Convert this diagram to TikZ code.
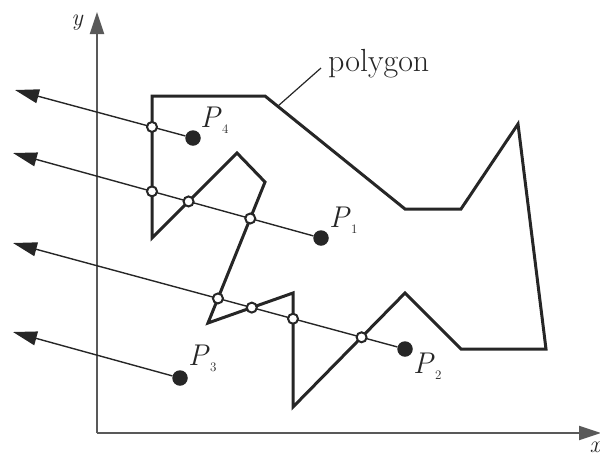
\documentclass[tikz,border=0pt]{standalone}
\usepackage{fontspec}
\usetikzlibrary{arrows.meta}
\begin{document}
\begin{tikzpicture}[x=1pt,y=-1pt,
 poly/.style={line width=3pt, line join=miter, draw=black!85},
 ray/.style={line width=1.4pt, draw=black!85, -{Triangle[length=24pt,width=14pt]}},
 axis/.style={line width=2pt, draw=black!65, -{Triangle[length=22pt,width=14pt]}},
 hole/.style={circle, draw=black!85, fill=white, line width=2pt, minimum size=10pt, inner sep=0pt},
 dot/.style={circle, fill=black!85, minimum size=15.5pt, inner sep=0pt},
 lbl/.style={font=\fontsize{30}{31}\selectfont\itshape, inner sep=0pt, anchor=base west, text=black!85},
 axlbl/.style={font=\fontsize{24}{25}\selectfont\itshape, inner sep=0pt, text=black!85},
 leader/.style={line width=1.2pt, draw=black!85}
]
\useasboundingbox (0,0) rectangle (600,459);
\newcommand{\subd}[1]{\kern2pt\raisebox{-6.5pt}{\fontsize{13}{13}\selectfont\upshape #1}}
% axes
\coordinate (o) at (97,433);
\coordinate (ytip) at (97,12);
\coordinate (xtip) at (601,433);
\draw[axis] (o) -- (ytip);
\draw[axis] (o) -- (xtip);
\node[axlbl] (ylbl) at (77,23) {y};
\node[axlbl] (xlbl) at (595,447) {x};
% polygon vertices
\coordinate (v1) at (152,96);
\coordinate (v2) at (265,96);
\coordinate (v3) at (405,209);
\coordinate (v4) at (461,209);
\coordinate (v5) at (518,124);
\coordinate (v6) at (546,349);
\coordinate (v7) at (461,349);
\coordinate (v8) at (405,293);
\coordinate (v9) at (293,407);
\coordinate (v10) at (293,293);
\coordinate (v11) at (208,323);
\coordinate (v12) at (265,182);
\coordinate (v13) at (237,153);
\coordinate (v14) at (152,238);
\draw[poly] (v1) -- (v2) -- (v3) -- (v4) -- (v5) -- (v6) -- (v7) -- (v8) -- (v9) -- (v10) -- (v11) -- (v12) -- (v13) -- (v14) -- cycle;
% leader and label
\coordinate (lead) at (278,106);
\coordinate (leadend) at (321,68);
\node[font=\fontsize{32}{33}\selectfont, inner sep=0pt, anchor=base west, text=black!85] (plbl) at (328,71) {polygon};
\draw[leader] (lead) -- (leadend);
% points and ray ends
\coordinate (c1) at (321,238);
\coordinate (c2) at (405,349);
\coordinate (c3) at (180,378);
\coordinate (c4) at (193,138);
\coordinate (t1) at (13,153);
\coordinate (t2) at (13,243);
\coordinate (t3) at (13,332);
\coordinate (t4) at (15,90);
\node[dot] (p1) at (c1) {};
\node[dot] (p2) at (c2) {};
\node[dot] (p3) at (c3) {};
\node[dot] (p4) at (c4) {};
\draw[ray] (p1) -- (t1);
\draw[ray] (p2) -- (t2);
\draw[ray] (p3) -- (t3);
\draw[ray] (p4) -- (t4);
% intersections
\node[hole] (h41) at (intersection of c4--t4 and v1--v14) {};
\node[hole] (h11) at (intersection of c1--t1 and v1--v14) {};
\node[hole] (h12) at (intersection of c1--t1 and v13--v14) {};
\node[hole] (h13) at (intersection of c1--t1 and v11--v12) {};
\node[hole] (h21) at (intersection of c2--t2 and v11--v12) {};
\node[hole] (h22) at (intersection of c2--t2 and v10--v11) {};
\node[hole] (h23) at (intersection of c2--t2 and v9--v10) {};
\node[hole] (h24) at (intersection of c2--t2 and v8--v9) {};
% labels
\node[lbl] (l4) at (200,127) {P\subd{4}};
\node[lbl] (l1) at (329,227) {P\subd{1}};
\node[lbl] (l3) at (188,365) {P\subd{3}};
\node[lbl] (l2) at (413,373) {P\subd{2}};
\end{tikzpicture}
\end{document}
